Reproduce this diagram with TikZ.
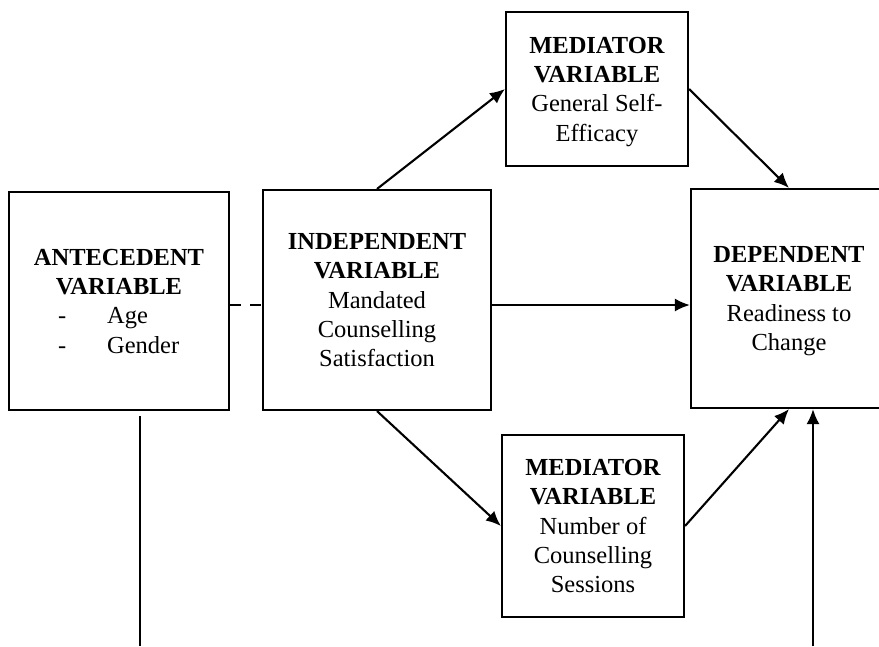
\documentclass[tikz,border=0pt]{standalone}
\usepackage{fontspec}
\setmainfont{Liberation Serif}
\usetikzlibrary{arrows.meta}
\begin{document}
\begin{tikzpicture}[x=1pt,y=-1pt,
  box/.style={draw,line width=2.1pt,inner sep=0pt,align=center,text depth=0pt,font=\fontsize{24.5}{29.3}\selectfont},
  arr/.style={line width=2.1pt,-{Latex[length=15pt,width=13pt]}},
  ln/.style={line width=1.6pt}]
\useasboundingbox[fill=white] (0,0) rectangle (879,646);
\node[box,minimum width=220pt,minimum height=218pt] (ante) at (119,301)
  {\textbf{ANTECEDENT}\\\textbf{VARIABLE}\\\makebox[122pt][l]{-\hspace{41pt}Age}\\\makebox[122pt][l]{-\hspace{41pt}Gender}};
\node[box,minimum width=228pt,minimum height=220pt] (indep) at (377,300)
  {\textbf{INDEPENDENT}\\\textbf{VARIABLE}\\Mandated\\Counselling\\Satisfaction};
\node[box,minimum width=182pt,minimum height=154pt] (med1) at (597,89)
  {\textbf{MEDIATOR}\\\textbf{VARIABLE}\\General Self-\\Efficacy};
\node[box,minimum width=182pt,minimum height=182pt] (med2) at (593,526)
  {\textbf{MEDIATOR}\\\textbf{VARIABLE}\\Number of\\Counselling\\Sessions};
\node[box,minimum width=196pt,minimum height=219pt] (dep) at (789,298.5)
  {\textbf{DEPENDENT}\\\textbf{VARIABLE}\\Readiness to\\Change};
\draw[line width=2.1pt,dash pattern=on 11pt off 9pt] ([yshift=-4pt]ante.east) -- ([yshift=-4pt]ante.east -| indep.west);
\draw[arr] ([yshift=-5pt]indep.east) -- ([yshift=-5pt]indep.east -| dep.west);
\draw[arr] (indep.north) -- (med1.west);
\draw[arr] (med1.east) -- (dep.north);
\draw[arr] (indep.south) -- (med2.west);
\draw[arr] (med2.east) -- (dep.south);
\coordinate (lt) at (140,416);
\coordinate (lb) at (140,646);
\draw[ln] (lt) -- (lb);
\coordinate (rb) at (813,646);
\draw[arr] (rb) -- (rb |- dep.south);
\end{tikzpicture}
\end{document}
